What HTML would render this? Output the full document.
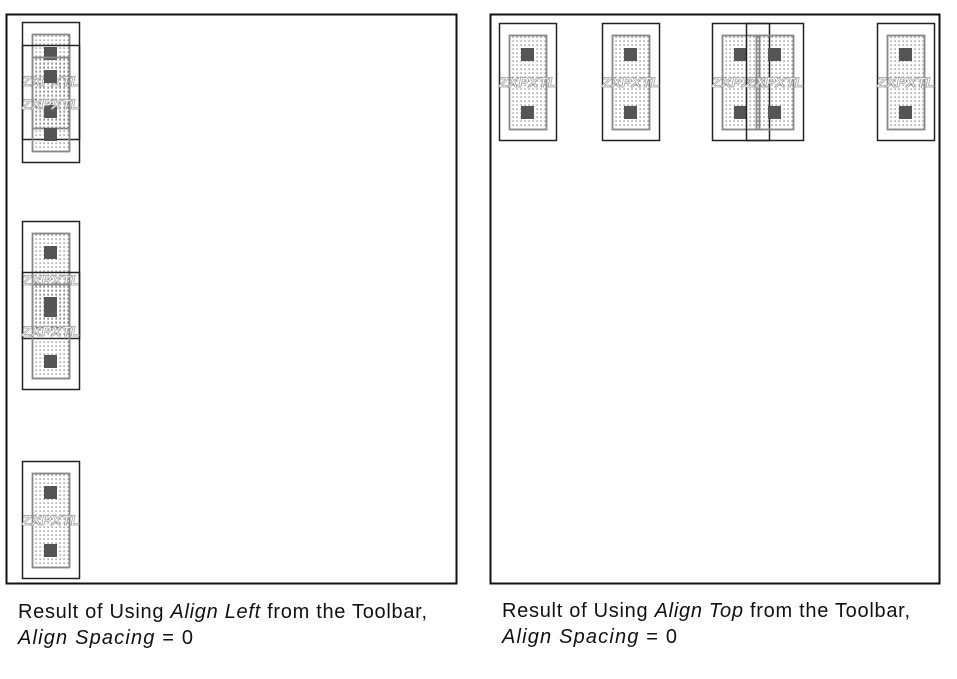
<!DOCTYPE html>
<html><head><style>body{margin:0;background:#fff}svg{display:block}</style></head>
<body>
<svg width="957" height="679" viewBox="0 0 957 679" xmlns="http://www.w3.org/2000/svg" font-family="Liberation Sans, sans-serif">
<defs>
<pattern id="dots" width="4" height="4" patternUnits="userSpaceOnUse">
<rect x="1.5" y="1.5" width="1.2" height="1.2" fill="#666"/>
</pattern>
<g id="cell">
<rect x="0.5" y="0.5" width="57" height="117" fill="none" stroke="#222" stroke-width="1.5"/>
<rect x="10.5" y="12.5" width="37" height="94" fill="url(#dots)" stroke="#888" stroke-width="1.8"/>
<rect x="22" y="25" width="13" height="13" fill="#555"/>
<rect x="22" y="83" width="13" height="13" fill="#555"/>
<text x="29" y="64" text-anchor="middle" font-size="14" font-style="italic" font-weight="bold" fill="#fff" stroke="#999" stroke-width="0.7" textLength="58" lengthAdjust="spacingAndGlyphs">ZXPXTL</text>
</g>
</defs>
<rect x="6.5" y="14.5" width="450" height="569" fill="none" stroke="#111" stroke-width="2"/>
<rect x="490.5" y="14.5" width="449" height="569" fill="none" stroke="#111" stroke-width="2"/>
<use href="#cell" x="22" y="22"/>
<use href="#cell" x="22" y="45"/>
<use href="#cell" x="22" y="221"/>
<use href="#cell" x="22" y="272"/>
<use href="#cell" x="22" y="461"/>
<use href="#cell" x="499" y="23"/>
<use href="#cell" x="602" y="23"/>
<use href="#cell" x="712" y="23"/>
<use href="#cell" x="746" y="23"/>
<use href="#cell" x="877" y="23"/>
<g font-size="20" fill="#111">
<text x="18" y="618" textLength="409" lengthAdjust="spacing">Result of Using <tspan font-style="italic">Align Left</tspan> from the Toolbar,</text>
<text x="18" y="644" textLength="175" lengthAdjust="spacing"><tspan font-style="italic">Align Spacing</tspan> = 0</text>
<text x="502" y="617" textLength="408" lengthAdjust="spacing">Result of Using <tspan font-style="italic">Align Top</tspan> from the Toolbar,</text>
<text x="502" y="643" textLength="175" lengthAdjust="spacing"><tspan font-style="italic">Align Spacing</tspan> = 0</text>
</g>
</svg>
</body></html>
